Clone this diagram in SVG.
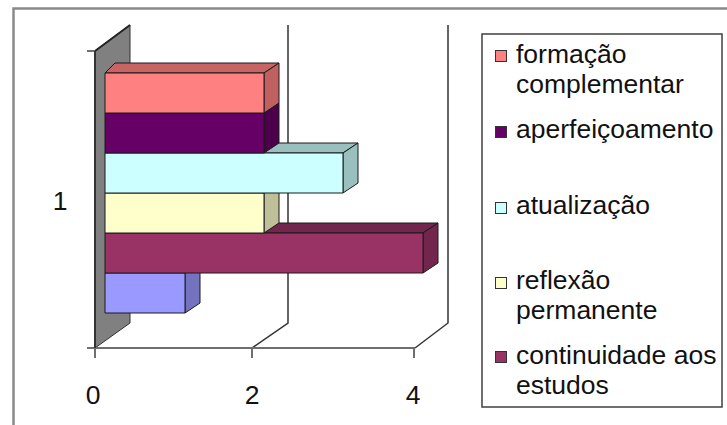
<svg xmlns="http://www.w3.org/2000/svg" width="727" height="425" viewBox="0 0 727 425">
<style>
text{font-family:"Liberation Sans",Arial,sans-serif;font-size:26.5px;fill:#111}
.frame{fill:none;stroke:#8a8a8a;stroke-width:2.5}
.grid{fill:none;stroke:#333;stroke-width:1.5}
.axis{fill:none;stroke:#6f6f6f;stroke-width:2}
.edge{stroke:#1a1a1a;stroke-width:1;stroke-linejoin:round}
.lg{stroke:#333;stroke-width:1}
</style>
<rect width="727" height="425" fill="#fff"/>
<path class="frame" d="M13.5 425V8.5H727"/>
<g id="plot-area">
<polygon id="wall" points="95,51 130,25 130,323 95,348" fill="#808080" stroke="#333" stroke-width="1"/>
<path d="M95 51L130 25" stroke="#222" stroke-width="2"/>
</g>
<g id="connectors">
<path class="grid" d="M288 25V323L252 348"/>
<path class="grid" d="M448 25V323L415 348"/>
<path class="axis" d="M87 348H415M95 348V358M252 348V358M414 348V358M87 51H95"/>
<path d="M95 51V348" stroke="#333" stroke-width="2"/>
</g>
<g id="bar-6">
<polygon class="edge" points="105,273 120,263 200,263 185,273" fill="#7373BF"/>
<polygon class="edge" points="185,273 200,263 200,303 185,313" fill="#7373BF"/>
<rect class="edge" x="105" y="273" width="80" height="40" fill="#9999FF"/>
</g>
<g id="bar-continuidade">
<polygon class="edge" points="105,233 120,223 438,223 423,233" fill="#73264D"/>
<polygon class="edge" points="423,233 438,223 438,263 423,273" fill="#73264D"/>
<rect class="edge" x="105" y="233" width="318" height="40" fill="#993366"/>
</g>
<g id="bar-reflexao">
<polygon class="edge" points="105,193 120,183 279,183 264,193" fill="#BFBF99"/>
<polygon class="edge" points="264,193 279,183 279,223 264,233" fill="#BFBF99"/>
<rect class="edge" x="105" y="193" width="159" height="40" fill="#FFFFCC"/>
</g>
<g id="bar-atualizacao">
<polygon class="edge" points="105,153 120,143 358,143 343,153" fill="#99BFBF"/>
<polygon class="edge" points="343,153 358,143 358,183 343,193" fill="#99BFBF"/>
<rect class="edge" x="105" y="153" width="238" height="40" fill="#CCFFFF"/>
</g>
<g id="bar-aperfeicoamento">
<polygon class="edge" points="105,113 120,103 279,103 264,113" fill="#4C004C"/>
<polygon class="edge" points="264,113 279,103 279,143 264,153" fill="#4C004C"/>
<rect class="edge" x="105" y="113" width="159" height="40" fill="#660066"/>
</g>
<g id="bar-formacao">
<polygon class="edge" points="105,73 115,63 279,63 264,73" fill="#C86464"/>
<polygon class="edge" points="264,73 279,63 279,103 264,113" fill="#C06060"/>
<rect class="edge" x="105" y="73" width="159" height="40" fill="#FF8080"/>
</g>
<g id="axis-labels">
<text x="60" y="210" text-anchor="middle">1</text>
<text x="93" y="404" text-anchor="middle">0</text>
<text x="252" y="404" text-anchor="middle">2</text>
<text x="413" y="404" text-anchor="middle">4</text>
</g>
<g id="legend">
<rect x="482" y="34" width="240" height="373" fill="#fff" stroke="#404040" stroke-width="1.5"/>
<rect class="lg" x="495.5" y="50.5" width="11" height="11" fill="#FF8080"/>
<text x="516" y="63">formação</text>
<text x="516" y="93">complementar</text>
<rect class="lg" x="495.5" y="126.5" width="11" height="11" fill="#660066"/>
<text x="516" y="138">aperfeiçoamento</text>
<rect class="lg" x="495.5" y="202.5" width="11" height="11" fill="#CCFFFF"/>
<text x="516" y="214">atualização</text>
<rect class="lg" x="495.5" y="277.5" width="11" height="11" fill="#FFFFCC"/>
<text x="516" y="289">reflexão</text>
<text x="516" y="319">permanente</text>
<rect class="lg" x="495.5" y="351.5" width="11" height="11" fill="#993366"/>
<text x="516" y="364">continuidade aos</text>
<text x="516" y="394">estudos</text>
</g>
</svg>
